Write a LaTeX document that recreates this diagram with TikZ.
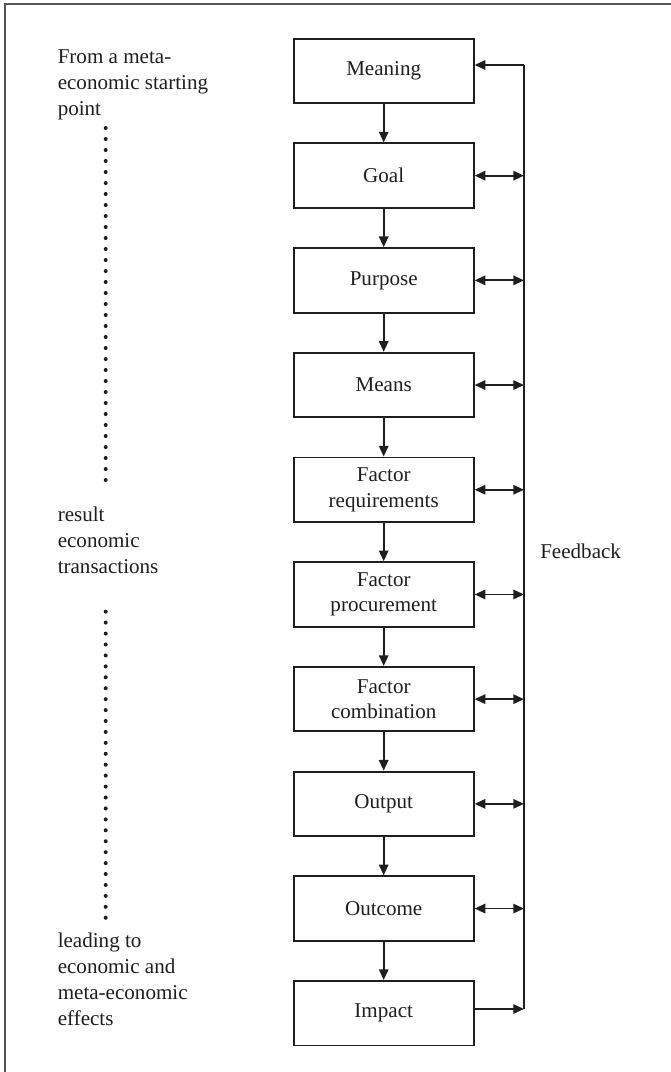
\documentclass[tikz,border=0pt]{standalone}
\usepackage{fontspec}
\setmainfont{Liberation Serif}
\usetikzlibrary{arrows.meta}
\definecolor{ink}{HTML}{1E1E1E}
\definecolor{framegray}{HTML}{555555}
\newcommand{\notelines}[1]{\begin{tabular}[t]{@{}l@{}}#1\end{tabular}}
\begin{document}
\begin{tikzpicture}[x=0.75pt,y=-0.75pt,
  every node/.style={font=\fontsize{15.8}{19.2}\selectfont, text=ink},
  stage/.style={draw=ink, line width=1.4pt, minimum width=135pt, minimum height=48.4pt, inner sep=0pt, align=center},
  flow/.style={draw=ink, line width=1.4pt, -{Triangle[length=8pt,width=7pt]}},
  fb/.style={draw=ink, line width=1.4pt, {Triangle[length=8pt,width=7pt]}-{Triangle[length=8pt,width=7pt]}},
  fbline/.style={draw=ink, line width=1.5pt},
  note/.style={anchor=base west, inner sep=0pt, font=\fontsize{15.8}{19.5}\selectfont},
  framestyle/.style={draw=framegray, line width=1.4pt}]
\useasboundingbox (0,0) rectangle (671,1072);
% frame (top and left only)
\coordinate (fA) at (5,1072);
\coordinate (fB) at (5,4);
\coordinate (fC) at (671,4);
\draw[framestyle] (fA) -- (fB) -- (fC);

% stages
\node[stage] (meaning) at (383.7,70.95) {Meaning};
\node[stage] (goal)    at (383.7,175.65) {Goal};
\node[stage] (purpose) at (383.7,280.35) {Purpose};
\node[stage] (means)   at (383.7,385.05) {Means};
\node[stage] (freq)    at (383.7,489.75) {Factor\\requirements};
\node[stage] (fproc)   at (383.7,594.45) {Factor\\procurement};
\node[stage] (fcomb)   at (383.7,699.15) {Factor\\combination};
\node[stage] (output)  at (383.7,803.85) {Output};
\node[stage] (outcome) at (383.7,908.55) {Outcome};
\node[stage] (impact)  at (383.7,1013.25) {Impact};

% flow arrows
\draw[flow] (meaning) -- (goal);
\draw[flow] (goal) -- (purpose);
\draw[flow] (purpose) -- (means);
\draw[flow] (means) -- (freq);
\draw[flow] (freq) -- (fproc);
\draw[flow] (fproc) -- (fcomb);
\draw[flow] (fcomb) -- (output);
\draw[flow] (output) -- (outcome);
\draw[flow] (outcome) -- (impact);

% feedback
\coordinate (fbtop) at (524,65);
\coordinate (fbbot) at (524,1009);
\draw[fbline] (fbtop) -- (fbbot);
\draw[flow] (fbtop) -- (meaning.east |- fbtop);
\draw[flow] (impact.east |- fbbot) -- (fbbot);
\foreach \n in {goal,purpose,means,freq,fproc,fcomb,output,outcome}{
  \draw[fb] (\n.east) -- (\n.east -| fbtop);
}
\node[anchor=west, inner sep=0pt] (feedback) at (540,551.7) {Feedback};

% left notes
\node[note] (start) at (57.5,63.3) {\notelines{From a meta-\\economic starting\\point}};
\node[note] (result) at (57.5,521.7) {\notelines{result\\economic\\transactions}};
\node[note] (effects) at (57.5,947.7) {\notelines{leading to\\economic and\\meta-economic\\effects}};

% dotted columns
\foreach \i in {0,...,32} \fill[ink] (105.7,128+11*\i) circle[radius=1.5pt];
\foreach \i in {0,...,28} \fill[ink] (105.7,611.7+10.93*\i) circle[radius=1.5pt];
\end{tikzpicture}
\end{document}
